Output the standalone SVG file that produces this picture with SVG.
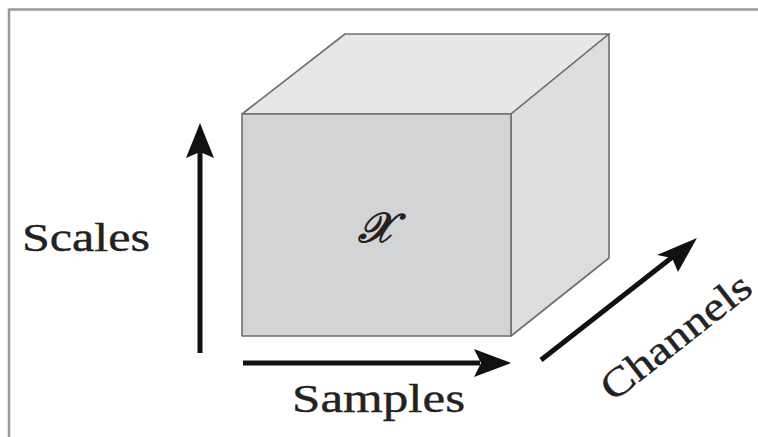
<svg xmlns="http://www.w3.org/2000/svg" width="758" height="437" viewBox="0 0 758 437">
<style>
.face{stroke:#6f6f6f;stroke-width:1.6;stroke-linejoin:round}
.lbl{font-family:"Liberation Serif","DejaVu Serif",serif;fill:#222;stroke:#222;stroke-width:0.4}
.ax{stroke:#111;stroke-width:5;fill:none}
.hd{fill:#111}
</style>
<rect width="758" height="437" fill="#fff"/>
<path d="M9 437 V9.5 H758" fill="none" stroke="#999" stroke-width="2.5"/>
<g id="cube">
<polygon class="face" points="242,114 345,34 609,34 511,114" fill="#e6e7e6"/>
<polygon class="face" points="511,114 609,34 609,258 511,336" fill="#dcdddf"/>
<rect class="face" x="242" y="114" width="269" height="222" fill="#d3d4d6"/>
<text class="lbl" x="376" y="242" font-size="42" text-anchor="middle" font-style="italic" style="stroke-width:1.3">𝒳</text>
</g>
<g id="connectors">
<line class="ax" x1="200" y1="353" x2="200" y2="150"/>
<polygon class="hd" points="200,123 214,158 200,152 186,158"/>
<line class="ax" x1="243" y1="363" x2="480" y2="363"/>
<polygon class="hd" points="511,363 474,377 481,363 474,349"/>
<line class="ax" x1="541" y1="360" x2="675" y2="255"/>
<polygon class="hd" points="697,238 678,272 672,258 657,255"/>
</g>
<g id="labels">
<text class="lbl" x="22" y="251" font-size="40" textLength="128" lengthAdjust="spacingAndGlyphs">Scales</text>
<text class="lbl" x="292" y="412" font-size="40" textLength="173" lengthAdjust="spacingAndGlyphs">Samples</text>
<text class="lbl" font-size="40" text-anchor="middle" textLength="180" lengthAdjust="spacingAndGlyphs" transform="translate(684,347) rotate(-38)">Channels</text>
</g>
</svg>
